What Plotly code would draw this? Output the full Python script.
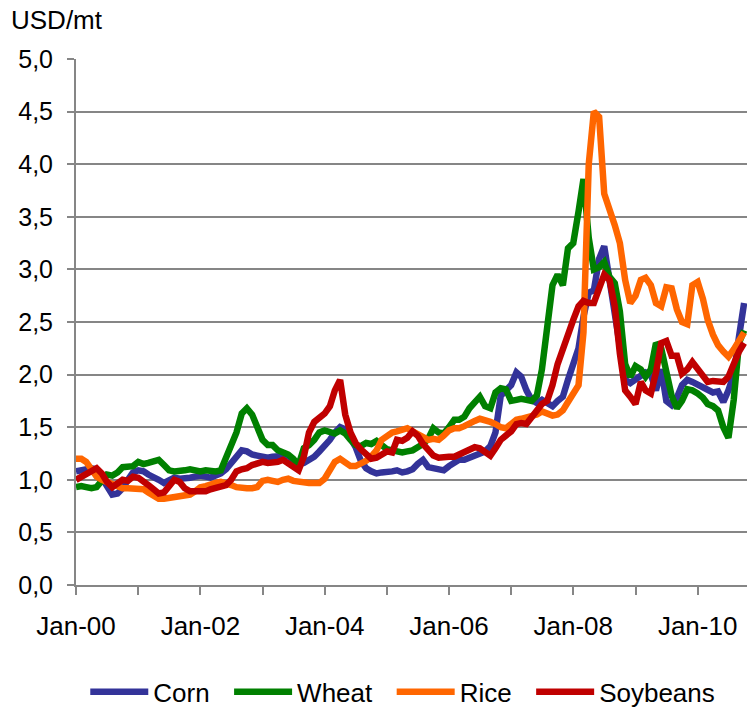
import pandas as pd
import plotly.graph_objects as go

months = pd.date_range("2000-01-01", periods=130, freq="MS")

corn = [
    1.08, 1.09, 1.10, 1.11, 1.10, 1.02, 0.93, 0.86, 0.87, 0.92,
    1.00, 1.07, 1.09, 1.08, 1.05, 1.03, 1.00, 0.97, 1.00, 1.02,
    1.01, 1.01, 1.02, 1.03, 1.04, 1.03, 1.02, 1.04, 1.06, 1.10,
    1.16, 1.22, 1.28, 1.27, 1.24, 1.23, 1.22, 1.21, 1.22, 1.22,
    1.22, 1.23, 1.18, 1.15, 1.16, 1.19, 1.22, 1.27, 1.32, 1.38,
    1.45, 1.50, 1.48, 1.40, 1.31, 1.18, 1.11, 1.08, 1.06, 1.07,
    1.07, 1.08, 1.09, 1.07, 1.08, 1.10, 1.15, 1.19, 1.12, 1.11,
    1.10, 1.09, 1.13, 1.16, 1.19, 1.19, 1.21, 1.22, 1.24, 1.27,
    1.32, 1.45, 1.80, 1.86, 1.90, 2.02, 1.98, 1.85, 1.76, 1.73,
    1.76, 1.73, 1.70, 1.75, 1.79, 1.95, 2.08, 2.25, 2.55, 2.78,
    2.80, 3.10, 3.22, 2.90, 2.65, 2.25, 1.95, 1.92, 1.95, 1.98,
    2.02, 2.00, 1.85, 2.05, 1.75, 1.71, 1.78, 1.90, 1.95, 1.93,
    1.90, 1.88, 1.86, 1.83, 1.84, 1.74, 1.85, 2.00, 2.36, 2.68,
]
wheat = [
    0.93, 0.94, 0.93, 0.92, 0.93, 0.99, 1.05, 1.04, 1.07, 1.12,
    1.12, 1.13, 1.17, 1.15, 1.16, 1.17, 1.19, 1.14, 1.09, 1.08,
    1.08, 1.09, 1.10, 1.09, 1.08, 1.09, 1.08, 1.08, 1.09, 1.22,
    1.33, 1.45, 1.63, 1.68, 1.62, 1.50, 1.38, 1.33, 1.33, 1.28,
    1.26, 1.24, 1.20, 1.14, 1.30, 1.33, 1.38, 1.45, 1.47, 1.45,
    1.44, 1.47, 1.44, 1.38, 1.33, 1.32, 1.35, 1.34, 1.37, 1.33,
    1.29, 1.28, 1.27, 1.26, 1.27, 1.28, 1.31, 1.34, 1.39, 1.49,
    1.45, 1.44, 1.50, 1.57, 1.57, 1.60, 1.68, 1.73, 1.79, 1.70,
    1.68, 1.83, 1.87, 1.86, 1.75, 1.76, 1.77, 1.76, 1.75, 1.80,
    2.05, 2.45, 2.85, 2.95, 2.85, 3.20, 3.25, 3.55, 3.86, 3.30,
    3.00, 3.02, 3.07, 2.93, 2.87, 2.60, 2.10, 1.98, 2.08, 2.05,
    1.98, 2.05, 2.30, 2.25, 2.00, 1.80, 1.68, 1.75, 1.86, 1.85,
    1.82, 1.78, 1.72, 1.70, 1.66, 1.50, 1.40, 1.76, 2.30, 2.42,
]
rice = [
    1.20, 1.20, 1.17, 1.10, 1.03, 1.00, 0.98, 0.96, 0.93, 0.92,
    0.92, 0.92, 0.92, 0.91, 0.88, 0.84, 0.82, 0.82, 0.83, 0.84,
    0.85, 0.85, 0.86, 0.89, 0.93, 0.94, 0.96, 0.97, 0.98, 0.97,
    0.95, 0.93, 0.92, 0.92, 0.92, 0.93, 0.99, 1.00, 0.99, 0.98,
    1.00, 1.01, 0.99, 0.98, 0.97, 0.97, 0.97, 0.97, 1.01, 1.09,
    1.17, 1.20, 1.16, 1.13, 1.13, 1.15, 1.18, 1.22, 1.28, 1.38,
    1.42, 1.45, 1.46, 1.48, 1.49, 1.46, 1.43, 1.40, 1.38, 1.39,
    1.38, 1.42, 1.47, 1.49, 1.49, 1.51, 1.54, 1.56, 1.58, 1.57,
    1.55, 1.53, 1.50, 1.49, 1.53, 1.57, 1.58, 1.59, 1.60, 1.62,
    1.65, 1.63, 1.61, 1.62, 1.66, 1.74, 1.82, 1.90, 2.40, 4.00,
    4.50, 4.45, 3.72, 3.58, 3.42, 3.25, 2.90, 2.68, 2.75, 2.90,
    2.92, 2.85, 2.68, 2.65, 2.83, 2.82, 2.62, 2.50, 2.48, 2.85,
    2.88, 2.72, 2.52, 2.38, 2.28, 2.22, 2.17, 2.24, 2.33, 2.40,
]
soybeans = [
    1.00, 1.03, 1.06, 1.09, 1.11, 1.06, 0.98, 0.93, 0.96, 1.00,
    0.99, 1.03, 1.02, 0.99, 0.95, 0.91, 0.87, 0.88, 0.95, 1.00,
    0.98, 0.92, 0.89, 0.89, 0.89, 0.89, 0.91, 0.92, 0.93, 0.95,
    1.00, 1.08, 1.10, 1.11, 1.14, 1.16, 1.17, 1.16, 1.16, 1.17,
    1.19, 1.16, 1.12, 1.09, 1.22, 1.45, 1.55, 1.59, 1.63, 1.70,
    1.85, 1.95, 1.62, 1.45, 1.35, 1.29, 1.24, 1.20, 1.21, 1.24,
    1.27, 1.26, 1.38, 1.37, 1.40, 1.46, 1.42, 1.34, 1.28, 1.23,
    1.21, 1.22, 1.22, 1.22, 1.24, 1.27, 1.29, 1.31, 1.30, 1.27,
    1.23, 1.30, 1.38, 1.42, 1.46, 1.53, 1.54, 1.53, 1.60, 1.67,
    1.72, 1.75, 1.90, 2.10, 2.25, 2.40, 2.52, 2.65, 2.70, 2.68,
    2.68, 2.82, 2.95, 2.90, 2.65, 2.20, 1.85, 1.79, 1.72, 1.93,
    1.85, 1.82, 2.02, 2.30, 2.32, 2.18, 2.18, 2.01, 2.05, 2.12,
    2.05, 1.98, 1.93, 1.94, 1.94, 1.93, 1.98, 2.12, 2.22, 2.30,
]

series = [
    ("Corn", corn, "#333399"),
    ("Wheat", wheat, "#008000"),
    ("Rice", rice, "#FF6600"),
    ("Soybeans", soybeans, "#C00000"),
]

font = "Liberation Sans, Arial, sans-serif"
grey = "#868686"
pad = "\u00a0\u00a0"  # widen the gap between legend entries

fig = go.Figure()
for i, (name, values, color) in enumerate(series):
    label = name if i == len(series) - 1 else name + pad
    fig.add_trace(go.Scatter(x=months, y=values, mode="lines", name=label,
                             line=dict(color=color, width=6.5)))

# the page is taller than the window so the legend fits without squeezing the plot
fig.update_layout(
    width=747, height=720,
    margin=dict(l=76, r=0, t=59, b=135),
    paper_bgcolor="white", plot_bgcolor="white",
    separators=",.",
    font=dict(family=font, size=26, color="black"),
    legend=dict(orientation="h", x=0.487, xanchor="center", y=-0.203, yanchor="middle",
                font=dict(size=26), itemwidth=58, traceorder="normal"),
    annotations=[dict(text="USD/mt", xref="paper", yref="paper", x=-0.1, y=1.074,
                      xanchor="left", yanchor="middle", showarrow=False,
                      font=dict(size=26))],
)
fig.update_xaxes(
    range=["2000-01-01", "2010-10-18"],
    tick0="2000-01-01", dtick="M24", tickformat="%b-%y",
    ticks="outside", ticklen=8, tickwidth=2, tickcolor=grey,
    showline=True, linecolor=grey, linewidth=2, showgrid=False,
    ticklabelstandoff=9,
    minor=dict(dtick="M12", tick0="2000-01-01", ticks="outside", ticklen=8,
               tickwidth=2, tickcolor=grey, showgrid=False),
)
fig.update_yaxes(
    range=[0, 5], dtick=0.5, tickformat=".1f",
    ticks="outside", ticklen=7, tickwidth=2, tickcolor=grey,
    showline=True, linecolor=grey, linewidth=2,
    showgrid=True, gridcolor=grey, gridwidth=2,
    tickfont=dict(size=25), ticklabelstandoff=9,
)

# page body has an 8px default margin; drop it so the figure sits at the window corner
fig.write_html("out.html", config={"displayModeBar": False},
               post_script="document.body.style.margin='0';")
